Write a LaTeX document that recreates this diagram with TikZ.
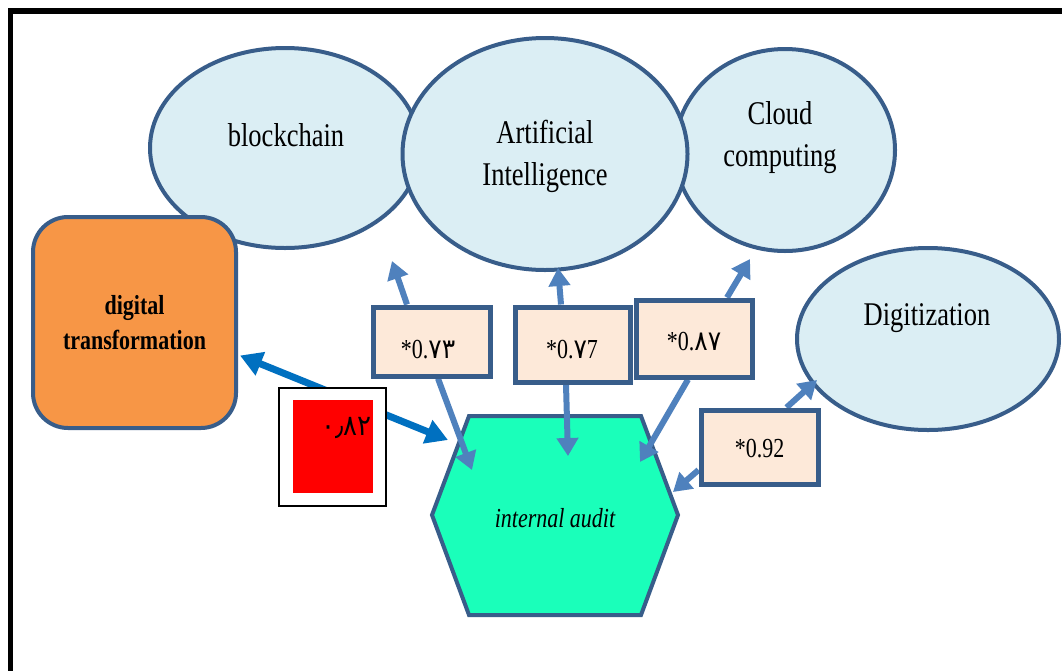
\documentclass[tikz,border=0pt]{standalone}
\usepackage{fontspec}
\usepackage{graphicx}
\setmainfont{Liberation Serif}
\newfontfamily\arabicfont{DejaVu Sans}
\usetikzlibrary{arrows.meta,shapes.geometric}
\definecolor{bord}{HTML}{385D8A}
\definecolor{ellfill}{HTML}{DBEEF4}
\definecolor{orangefill}{HTML}{F79646}
\definecolor{boxfill}{HTML}{FDE9D9}
\definecolor{hexfill}{HTML}{1AFFBA}
\definecolor{arrblue}{HTML}{4F81BD}
\definecolor{dblblue}{HTML}{0070C0}
\newcommand{\vs}[1]{\scalebox{1}[1.25]{#1}}
\newcommand{\ar}[1]{{\arabicfont\fontsize{25}{28}\selectfont\scalebox{1}[1.1]{#1}}}
\begin{document}
\begin{tikzpicture}[x=1pt,y=-1pt,
  ell/.style={ellipse, draw=bord, line width=4, fill=ellfill, inner sep=0},
  valbox/.style={rectangle, draw=bord, line width=5, fill=boxfill, inner sep=0},
  arr/.style={draw=arrblue, line width=6, -{Triangle[length=18pt,width=21pt]}},
  dbl/.style={draw=dblblue, line width=7, {Triangle[length=22pt,width=24pt]}-{Triangle[length=22pt,width=24pt]}},
  etext/.style={align=center, font=\fontsize{26.5}{42}\selectfont, inner sep=0},
  btext/.style={font=\fontsize{22}{26}\selectfont, inner sep=0}]
\useasboundingbox (0,0) rectangle (1062,670);
\fill[white] (0,0) rectangle (1062,670);
% frame
\draw[line width=5.5, miter limit=10] (10.5,672) -- (10.5,11) -- (1064,11);
% ellipses
\node[ell, minimum width=270, minimum height=200] (bc) at (285,148) {};
\node[ell, minimum width=220, minimum height=202] (cc) at (785,150) {};
\node[ell, minimum width=285, minimum height=232] (ai) at (545,154) {};
\node[ell, minimum width=262, minimum height=182] (dg) at (928,339) {};
\node[etext] (bct) at (286,135) {\vs{blockchain}};
\node[etext] (ait) at (545,156) {\vs{Artificial}\\\vs{Intelligence}};
\node[etext] (cct) at (780,137.5) {\vs{Cloud}\\\vs{computing}};
\node[etext] (dgt) at (927,318) {\vs{Digitization}};
% digital transformation
\node[rectangle, rounded corners=35, draw=bord, line width=4, fill=orangefill,
  minimum width=203, minimum height=211, align=center,
  font=\fontsize{22}{35}\selectfont\bfseries] (dt) at (134.5,322.5)
  {\vs{digital}\\\vs{transformation}};
% internal audit hexagon
\draw[draw=bord, line width=4, fill=hexfill, line join=miter]
  (432,515) -- (469,416) -- (641,416) -- (678,515) -- (641,615) -- (469,615) -- cycle;
\node[font=\fontsize{22}{26}\selectfont\itshape, inner sep=0] (ia) at (555,518) {\vs{internal audit}};
% value boxes
\node[valbox, minimum width=117, minimum height=69] (b73) at (431.5,341.5) {};
\node[valbox, minimum width=115, minimum height=75] (b77) at (572.5,344.5) {};
\node[valbox, minimum width=116, minimum height=77] (b87) at (694,338.5) {};
\node[valbox, minimum width=117, minimum height=74] (b92) at (759.5,447) {};
% arrow tips
\coordinate (t73u) at (392,261);
\coordinate (t73d) at (472,470);
\coordinate (t77u) at (558,268);
\coordinate (t77d) at (568,456);
\coordinate (t87u) at (750,259);
\coordinate (t87d) at (640,462);
\coordinate (t92u) at (817,380);
\coordinate (t92d) at (673,492);
\coordinate (iaL) at (448,440);
% arrows
\draw[arr] ([xshift=-24.5pt]b73.north) -- (t73u);
\draw[arr] ([xshift=6.5pt]b73.south) -- (t73d);
\draw[arr] ([xshift=-11.5pt]b77.north) -- (t77u);
\draw[arr] ([xshift=-6.5pt]b77.south) -- (t77d);
\draw[arr] ([xshift=33pt]b87.north) -- (t87u);
\draw[arr] ([xshift=-6pt]b87.south) -- (t87d);
\draw[arr] ([xshift=27pt]b92.north) -- (t92u);
\draw[arr] ([yshift=-23pt]b92.west) -- (t92d);
\draw[dbl] ([yshift=-33pt,xshift=2pt]dt.east) -- (iaL);
% redraw boxes on top of arrow starts
\node[valbox, minimum width=117, minimum height=69] at (b73) {};
\node[valbox, minimum width=115, minimum height=75] at (b77) {};
\node[valbox, minimum width=116, minimum height=77] at (b87) {};
\node[valbox, minimum width=117, minimum height=74] at (b92) {};
\node[btext] (l73) at (428,350) {\vs{*0.}\ar{٧٣}};
\node[btext] (l77) at (572,350) {\vs{*0.}\ar{٧}\vs{7}};
\node[btext] (l87) at (694,342) {\vs{*0.}\ar{٨٧}};
\node[btext] (l92) at (759.5,449) {\vs{*0.92}};
% red box
\node[rectangle, draw=black, line width=2, fill=white, minimum width=107, minimum height=118] (rb) at (332.5,447) {};
\node[rectangle, fill=red, minimum width=80, minimum height=93, inner sep=0] (rr) at (333,446.5) {};
\node[anchor=east, inner sep=0, font=\arabicfont\fontsize{26}{30}\selectfont] (rt) at (372,428) {\scalebox{1}[1.1]{٠٫٨٢}};
\end{tikzpicture}
\end{document}
